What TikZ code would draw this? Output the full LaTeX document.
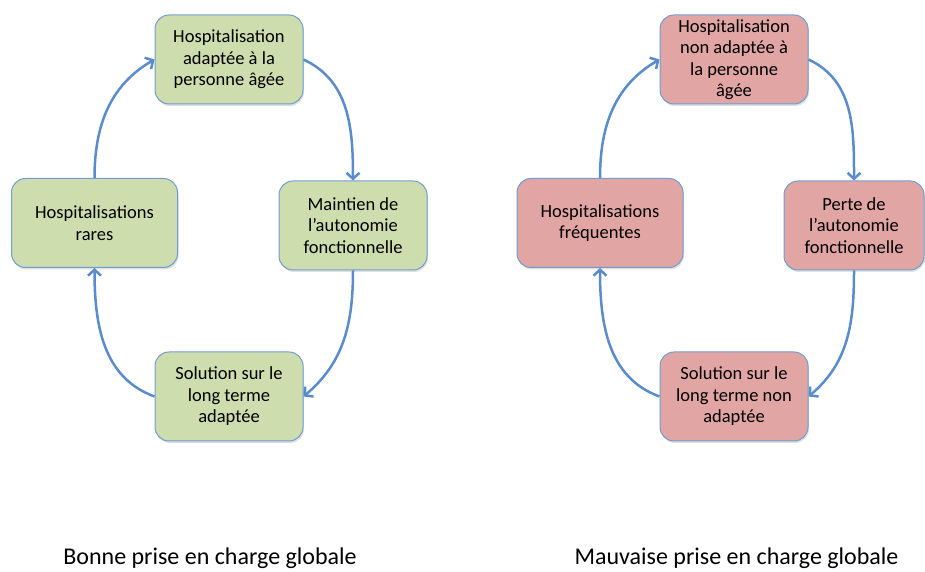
\documentclass[tikz,border=0pt]{standalone}
\definecolor{arrowblue}{RGB}{90,140,203}
\definecolor{edgeblue}{RGB}{112,156,210}
\definecolor{goodgreen}{RGB}{206,221,173}
\definecolor{badred}{RGB}{225,166,164}
\usepackage{tikz}
\usepackage{fontspec}
\setmainfont{Carlito}
\usetikzlibrary{shapes,arrows.meta,positioning,calc,shadows}

\begin{document}
\begin{tikzpicture}[x=1pt, y=1pt,
    box/.style={rectangle, rounded corners=14pt, draw=edgeblue, line width=1pt,
        minimum width=148pt, minimum height=89pt, align=center, inner sep=2pt,
        font=\fontsize{18.5}{21.5}\selectfont,
        drop shadow={shadow xshift=1pt, shadow yshift=-2pt, opacity=0.25}},
    goodbox/.style={box, fill=goodgreen},
    badbox/.style={box, fill=badred},
    cycle/.style={->, >={Straight Barb[length=6pt, width=13pt]}, line width=2.5pt, color=arrowblue},
    caption/.style={anchor=base, font=\fontsize{24}{28}\selectfont}]
    \useasboundingbox (0,0) rectangle (925,572);

    % Bonne prise en charge
    \node[goodbox] (hosp_good) at (229,512.5) {Hospitalisation\\adaptée à la\\personne âgée};
    \node[goodbox, minimum width=166pt] (rare) at (94.5,349) {Hospitalisations\\rares};
    \node[goodbox] (maintien) at (353,346.5) {Maintien de\\l’autonomie\\fonctionnelle};
    \node[goodbox, below=247pt of hosp_good] (sol_good) {Solution sur le\\long terme\\adaptée};

    \draw[cycle] (rare.north) to[out=90, in=210] (hosp_good.west);
    \draw[cycle] (hosp_good.east) to[out=-25, in=90] (maintien.north);
    \draw[cycle] (maintien.south) to[out=-90, in=40] (sol_good.east);
    \draw[cycle] (sol_good.west) to[out=160, in=-90] (rare.south);

    % Mauvaise prise en charge
    \node[badbox] (hosp_bad) at (734,512.5) {Hospitalisation\\non adaptée à\\la personne\\âgée};
    \node[badbox, minimum width=166pt] (freq) at (600,349) {Hospitalisations\\fréquentes};
    \node[badbox, minimum width=140pt] (perte) at (854,346.5) {Perte de\\l’autonomie\\fonctionnelle};
    \node[badbox, below=247pt of hosp_bad] (sol_bad) {Solution sur le\\long terme non\\adaptée};

    \draw[cycle] (freq.north) to[out=90, in=210] (hosp_bad.west);
    \draw[cycle] (hosp_bad.east) to[out=-25, in=90] (perte.north);
    \draw[cycle] (perte.south) to[out=-90, in=40] (sol_bad.east);
    \draw[cycle] (sol_bad.west) to[out=160, in=-90] (freq.south);

    % Legendes
    \node[caption] (good_label) at (210,7) {Bonne prise en charge globale};
    \node[caption] (bad_label) at (736.5,7) {Mauvaise prise en charge globale};
\end{tikzpicture}
\end{document}
